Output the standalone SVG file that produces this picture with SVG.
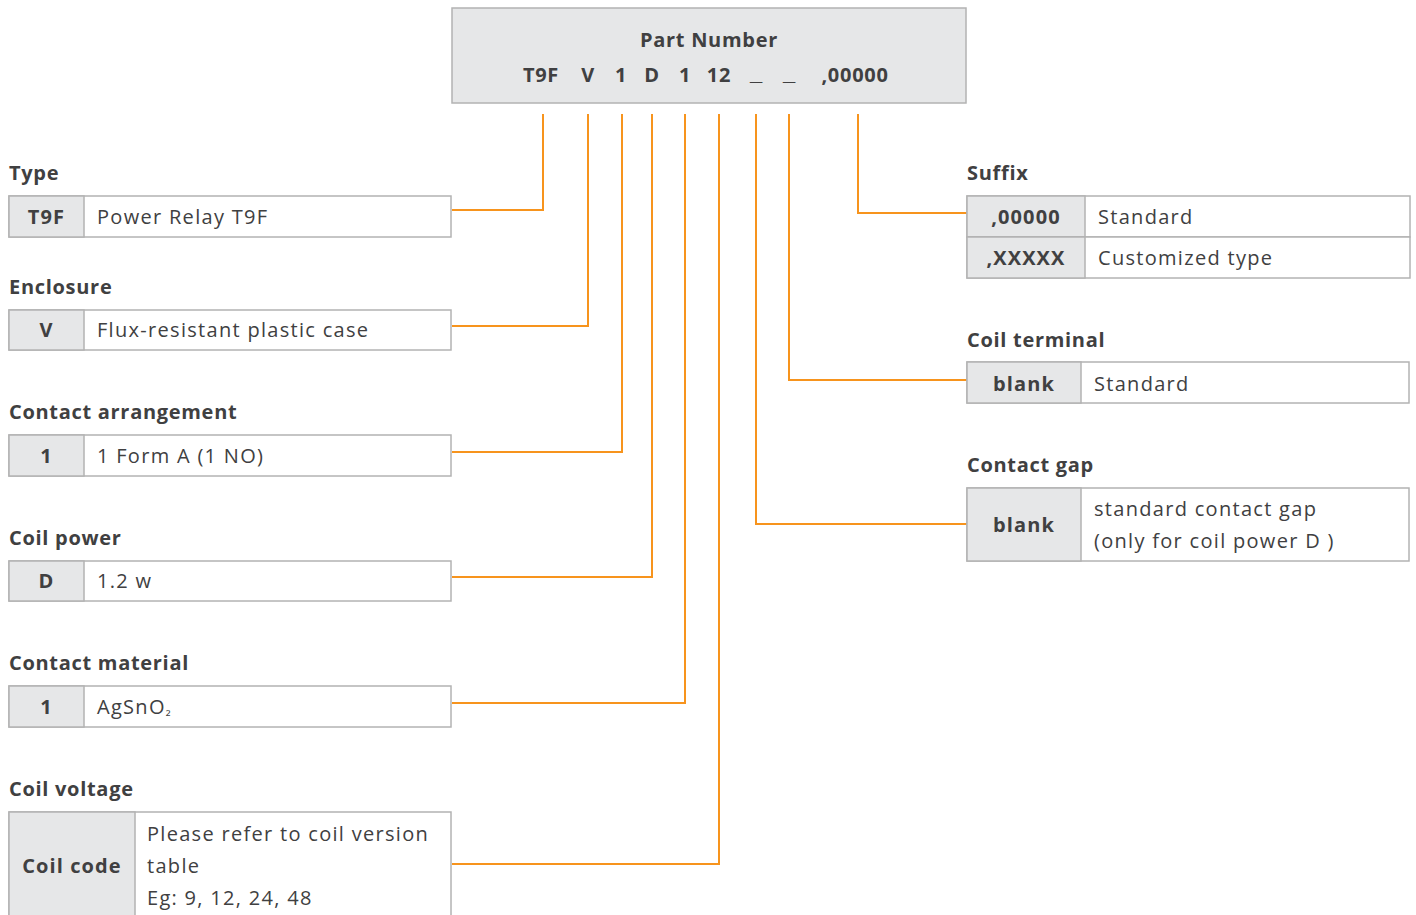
<svg xmlns="http://www.w3.org/2000/svg" width="1416" height="915" viewBox="0 0 1416 915">
<style>
text{font-family:"Open Sans","Noto Sans","Liberation Sans",sans-serif;fill:#404041}
.h{font-size:20px;font-weight:bold;letter-spacing:0.7px}
.k{font-size:20px;font-weight:bold;text-anchor:middle;letter-spacing:1.1px}
.p{font-size:20px;font-weight:bold;text-anchor:middle;letter-spacing:0.7px}
.u{font-family:"Liberation Sans",Arial,sans-serif;font-size:22px;font-weight:bold;text-anchor:middle}
.v{font-size:20px;letter-spacing:1.3px}
.key{fill:#e6e7e8;stroke:#b3b3b3;stroke-width:1.5}
.val{fill:#ffffff;stroke:#b3b3b3;stroke-width:1.5}
.c{fill:none;stroke:#f7941d;stroke-width:2}
</style>
<rect width="1416" height="915" fill="#ffffff"/>
<g id="part-number">
<rect x="452" y="8" width="514" height="95" fill="#e6e7e8" stroke="#b3b3b3" stroke-width="1.5"/>
<text x="709" y="47" class="p">Part Number</text>
<text x="541" y="82" class="p">T9F</text>
<text x="588" y="82" class="p">V</text>
<text x="621" y="82" class="p">1</text>
<text x="652" y="82" class="p">D</text>
<text x="685" y="82" class="p">1</text>
<text x="719" y="82" class="p">12</text>
<text x="756" y="80" class="u">_</text>
<text x="789" y="80" class="u">_</text>
<text x="855" y="82" class="p">,00000</text>
</g>
<g id="connectors">
<polyline class="c" points="543,114 543,210 452,210"/>
<polyline class="c" points="588,114 588,326 452,326"/>
<polyline class="c" points="622,114 622,452 452,452"/>
<polyline class="c" points="652,114 652,577 452,577"/>
<polyline class="c" points="685,114 685,703 452,703"/>
<polyline class="c" points="719,114 719,864 452,864"/>
<polyline class="c" points="756,114 756,524 967,524"/>
<polyline class="c" points="789,114 789,380 967,380"/>
<polyline class="c" points="858,114 858,213 967,213"/>
</g>
<g id="type">
<text x="9" y="180" class="h">Type</text>
<rect class="val" x="9" y="196" width="442" height="41"/>
<rect class="key" x="9" y="196" width="75" height="41"/>
<text x="46.5" y="224" class="k">T9F</text>
<text x="97" y="224" class="v">Power Relay T9F</text>
</g>
<g id="enclosure">
<text x="9" y="294" class="h">Enclosure</text>
<rect class="val" x="9" y="310" width="442" height="40"/>
<rect class="key" x="9" y="310" width="75" height="40"/>
<text x="46.5" y="337" class="k">V</text>
<text x="97" y="337" class="v">Flux-resistant plastic case</text>
</g>
<g id="contact-arrangement">
<text x="9" y="419" class="h">Contact arrangement</text>
<rect class="val" x="9" y="435" width="442" height="41"/>
<rect class="key" x="9" y="435" width="75" height="41"/>
<text x="46.5" y="463" class="k">1</text>
<text x="97" y="463" class="v">1 Form A (1 NO)</text>
</g>
<g id="coil-power">
<text x="9" y="545" class="h">Coil power</text>
<rect class="val" x="9" y="561" width="442" height="40"/>
<rect class="key" x="9" y="561" width="75" height="40"/>
<text x="46.5" y="588" class="k">D</text>
<text x="97" y="588" class="v">1.2 w</text>
</g>
<g id="contact-material">
<text x="9" y="670" class="h">Contact material</text>
<rect class="val" x="9" y="686" width="442" height="41"/>
<rect class="key" x="9" y="686" width="75" height="41"/>
<text x="46.5" y="714" class="k">1</text>
<text x="97" y="714" class="v">AgSnO<tspan font-size="14">₂</tspan></text>
</g>
<g id="coil-voltage">
<text x="9" y="796" class="h">Coil voltage</text>
<rect class="val" x="9" y="812" width="442" height="110"/>
<rect class="key" x="9" y="812" width="126" height="110"/>
<text x="72" y="873" class="k">Coil code</text>
<text x="147" y="841" class="v">Please refer to coil version</text>
<text x="147" y="873" class="v">table</text>
<text x="147" y="905" class="v">Eg: 9, 12, 24, 48</text>
</g>
<g id="suffix">
<text x="967" y="180" class="h">Suffix</text>
<rect class="val" x="967" y="196" width="443" height="41"/>
<rect class="key" x="967" y="196" width="118" height="41"/>
<rect class="val" x="967" y="237" width="443" height="41"/>
<rect class="key" x="967" y="237" width="118" height="41"/>
<text x="1026" y="224" class="k">,00000</text>
<text x="1098" y="224" class="v">Standard</text>
<text x="1026" y="265" class="k">,XXXXX</text>
<text x="1098" y="265" class="v">Customized type</text>
</g>
<g id="coil-terminal">
<text x="967" y="347" class="h">Coil terminal</text>
<rect class="val" x="967" y="362" width="442" height="41"/>
<rect class="key" x="967" y="362" width="114" height="41"/>
<text x="1024" y="391" class="k">blank</text>
<text x="1094" y="391" class="v">Standard</text>
</g>
<g id="contact-gap">
<text x="967" y="472" class="h">Contact gap</text>
<rect class="val" x="967" y="488" width="442" height="73"/>
<rect class="key" x="967" y="488" width="114" height="73"/>
<text x="1024" y="532" class="k">blank</text>
<text x="1094" y="516" class="v">standard contact gap</text>
<text x="1094" y="548" class="v">(only for coil power D )</text>
</g>
</svg>
